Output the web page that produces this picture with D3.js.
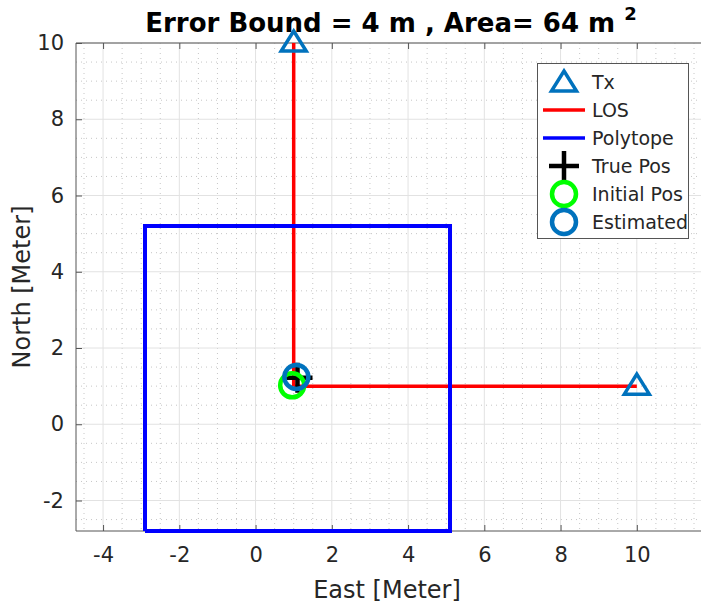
<!DOCTYPE html>
<html>
<head>
<meta charset="utf-8">
<script src="https://cdn.jsdelivr.net/npm/d3@7"></script>
<style>
  html, body { margin: 0; padding: 0; background: #fff; }
  svg { display: block; font-family: "DejaVu Sans", Verdana, sans-serif; }
</style>
</head>
<body>
<svg id="chart" width="701" height="607"></svg>
<script>
// Transmitter positions (East, North) in metres
const txEast = [1, 10];
const txNorth = [10, 1];
// Common LOS origin
const losOrigin = [1, 1];
// Error polytope corners (closed square)
const polyEast = [-2.9, 5.1, 5.1, -2.9, -2.9];
const polyNorth = [-2.8, -2.8, 5.2, 5.2, -2.8];
// Positions
const truePos = [1.1, 1.22];
const initialPos = [0.96, 1.02];
const estimatedPos = [1.07, 1.24];
// Axis ticks
const xTicks = [-4, -2, 0, 2, 4, 6, 8, 10];
const yTicks = [-2, 0, 2, 4, 6, 8, 10];
const legendLabels = ["Tx", "LOS", "Polytope", "True Pos", "Initial Pos", "Estimated"];

const W = 701, H = 607;
const plotLeft = 76, plotTop = 43, plotBottom = 531, plotRight = W;
const xDomain = [-4.71, 11.9];
const pxPerUnit = (plotBottom - plotTop) / 12.8;
const x = d3.scaleLinear().domain(xDomain).range([plotLeft, plotLeft + (xDomain[1] - xDomain[0]) * pxPerUnit]);
const y = d3.scaleLinear().domain([-2.8, 10]).range([plotBottom, plotTop]);

const svg = d3.select("#chart");
const C = { tx: "#0072BD", los: "#FF0000", poly: "#0000FF", truth: "#000000", init: "#00FF00", est: "#0072BD" };

// Minor grid (every 0.5 m), dotted
const minorX = d3.range(-4.5, 12, 0.5).filter(v => Math.abs(v % 2) > 1e-9 && x(v) > plotLeft && x(v) < plotRight);
const minorY = d3.range(-2.5, 10, 0.5).filter(v => Math.abs(v % 2) > 1e-9);
const grid = svg.append("g");
grid.selectAll(".mx").data(minorX).join("line")
  .attr("x1", d => x(d)).attr("x2", d => x(d)).attr("y1", plotTop).attr("y2", plotBottom)
  .attr("stroke", "#c6c6c6").attr("stroke-width", 1).attr("stroke-dasharray", "1,4");
grid.selectAll(".my").data(minorY).join("line")
  .attr("x1", plotLeft).attr("x2", plotRight).attr("y1", d => y(d)).attr("y2", d => y(d))
  .attr("stroke", "#c6c6c6").attr("stroke-width", 1).attr("stroke-dasharray", "1,4");
// Major grid
grid.selectAll(".gx").data(xTicks).join("line")
  .attr("x1", d => x(d)).attr("x2", d => x(d)).attr("y1", plotTop).attr("y2", plotBottom)
  .attr("stroke", "#e2e2e2").attr("stroke-width", 1);
grid.selectAll(".gy").data(yTicks).join("line")
  .attr("x1", plotLeft).attr("x2", plotRight).attr("y1", d => y(d)).attr("y2", d => y(d))
  .attr("stroke", "#e2e2e2").attr("stroke-width", 1);

// Axes with inward ticks
const axisColor = "#555";
const fmt = d => String(d);
const gx = svg.append("g").attr("transform", `translate(0,${plotBottom})`)
  .call(d3.axisBottom(x).tickValues(xTicks).tickSize(-6).tickPadding(16).tickFormat(fmt));
const gxTop = svg.append("g").attr("transform", `translate(0,${plotTop})`)
  .call(d3.axisTop(x).tickValues(xTicks).tickSize(-6).tickFormat(""));
const gy = svg.append("g").attr("transform", `translate(${plotLeft},0)`)
  .call(d3.axisLeft(y).tickValues(yTicks).tickSize(-6).tickPadding(12).tickFormat(fmt));
[gx, gxTop, gy].forEach(g => {
  g.select(".domain").remove();
  g.selectAll(".tick line").attr("stroke", axisColor);
  g.selectAll(".tick text").attr("fill", "#262626").style("font-size", "21px")
    .style("font-family", "DejaVu Sans, sans-serif");
});
gx.selectAll(".tick text").attr("dy", "0.71em");
// Axes border (left, bottom, top)
svg.append("path")
  .attr("d", `M${plotRight},${plotTop}H${plotLeft}V${plotBottom}H${plotRight}`)
  .attr("fill", "none").attr("stroke", axisColor).attr("stroke-width", 1);

// LOS lines
const plot = svg.append("g");
txEast.forEach((e, i) => {
  plot.append("line")
    .attr("x1", x(losOrigin[0])).attr("y1", y(losOrigin[1]))
    .attr("x2", x(e)).attr("y2", y(txNorth[i]))
    .attr("stroke", C.los).attr("stroke-width", 3.5);
});
// Polytope
plot.append("path")
  .attr("d", d3.line().x(d => x(d[0])).y(d => y(d[1]))(polyEast.map((e, i) => [e, polyNorth[i]])))
  .attr("fill", "none").attr("stroke", C.poly).attr("stroke-width", 4);

// Marker helpers
const triPath = "M0,-12L12.5,8L-12.5,8Z";
function tri(g, cx, cy) {
  g.append("path").attr("d", triPath).attr("transform", `translate(${cx},${cy})`)
    .attr("fill", "none").attr("stroke", C.tx).attr("stroke-width", 3.5);
}
function plus(g, cx, cy) {
  g.append("path").attr("d", `M${cx - 15},${cy}H${cx + 15}M${cx},${cy - 15}V${cy + 15}`)
    .attr("stroke", C.truth).attr("stroke-width", 4.5).attr("fill", "none");
}
function ring(g, cx, cy, col) {
  g.append("circle").attr("cx", cx).attr("cy", cy).attr("r", 12)
    .attr("fill", "none").attr("stroke", col).attr("stroke-width", 4.5);
}

txEast.forEach((e, i) => tri(plot, x(e), y(txNorth[i])));
plus(plot, x(truePos[0]), y(truePos[1]));
ring(plot, x(initialPos[0]), y(initialPos[1]), C.init);
ring(plot, x(estimatedPos[0]), y(estimatedPos[1]), C.est);

// Legend
const lg = svg.append("g");
lg.append("rect").attr("x", 537.5).attr("y", 63.5).attr("width", 151).attr("height", 175)
  .attr("fill", "#fff").attr("stroke", axisColor).attr("stroke-width", 1);
const rowY = i => 82 + i * 28;
const mx = 564;
tri(lg, mx, rowY(0) + 1);
lg.append("line").attr("x1", 543).attr("x2", 585).attr("y1", rowY(1)).attr("y2", rowY(1))
  .attr("stroke", C.los).attr("stroke-width", 3.5);
lg.append("line").attr("x1", 543).attr("x2", 585).attr("y1", rowY(2)).attr("y2", rowY(2))
  .attr("stroke", C.poly).attr("stroke-width", 3.5);
plus(lg, mx, rowY(3));
ring(lg, mx, rowY(4), C.init);
ring(lg, mx, rowY(5), C.est);
lg.selectAll("text.lbl").data(legendLabels).join("text")
  .attr("x", 592).attr("y", (d, i) => rowY(i) + 7)
  .attr("fill", "#262626").style("font-size", "19px").text(d => d);

// Axis titles
svg.append("text").attr("x", 387).attr("y", 598).attr("text-anchor", "middle")
  .attr("fill", "#262626").style("font-size", "24px").text("East [Meter]");
svg.append("text").attr("transform", `translate(30,${(plotTop + plotBottom) / 2}) rotate(-90)`)
  .attr("text-anchor", "middle")
  .attr("fill", "#262626").style("font-size", "24px").text("North [Meter]");

// Title with superscript
const title = svg.append("text").attr("x", 391).attr("y", 32).attr("text-anchor", "middle")
  .attr("fill", "#000").style("font-size", "26px").style("font-weight", "bold");
title.append("tspan").text("Error Bound = 4 m , Area= 64 m ");
title.append("tspan").attr("dy", -12).style("font-size", "18px").text("2");
</script>
</body>
</html>
